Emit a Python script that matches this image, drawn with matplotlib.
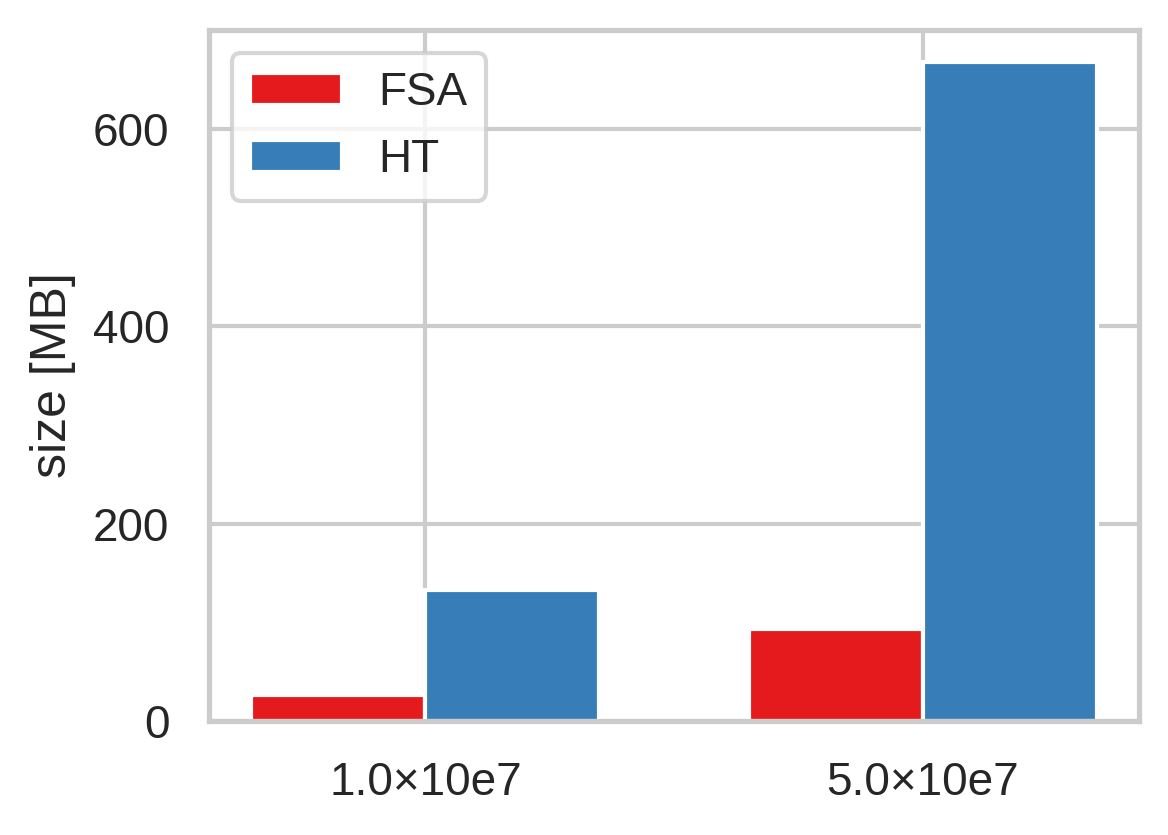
import matplotlib
matplotlib.use("Agg")
import matplotlib.pyplot as plt
import seaborn as sns
import numpy as np

categories = ["1.0×10e7", "5.0×10e7"]
fsa_values = [26, 93]
ht_values = [133, 668]
series_names = ["FSA", "HT"]

sns.set_theme(style="whitegrid", context="notebook")
plt.rcParams['font.family'] = ['Arial', 'Liberation Sans', 'DejaVu Sans']
colors = sns.color_palette("Set1")

fig, ax = plt.subplots(figsize=(1168/300, 835/300), dpi=300)
x = np.arange(len(categories))
w = 0.35
ax.bar(x - w/2, fsa_values, w, color=colors[0], label=series_names[0], edgecolor="white", linewidth=1.0)
ax.bar(x + w/2, ht_values, w, color=colors[1], label=series_names[1], edgecolor="white", linewidth=1.0)
ax.set_xticks(x)
ax.set_xticklabels(categories)
ax.set_ylim(0, 700)
ax.set_yticks([0, 200, 400, 600])
ax.set_ylabel("size [MB]")
ax.legend(loc="upper left")
fig.subplots_adjust(left=209/1168, right=1139/1168, top=1-30/835, bottom=1-721/835)
fig.savefig("out.png", dpi=300)
